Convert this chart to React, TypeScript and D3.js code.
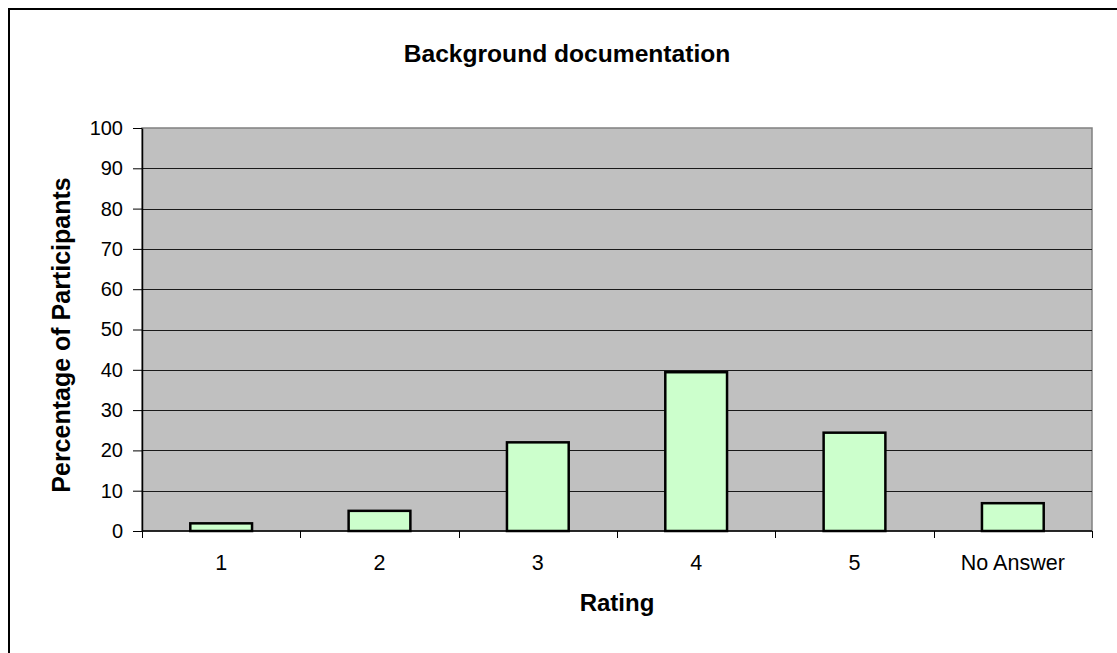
import { useRef, useEffect } from 'react'
import * as d3 from 'd3';

const ratings = ["1", "2", "3", "4", "5", "No Answer"];
const percentages = [1.9, 5.0, 22.0, 39.4, 24.4, 6.9];
const yTicks = [0, 10, 20, 30, 40, 50, 60, 70, 80, 90, 100];

const chartTitle = "Background documentation";
const xTitle = "Rating";
const yTitle = "Percentage of Participants";

function App() {

    const d3Container = useRef(null);

    const width = 1117;
    const height = 653;

    useEffect(() => {

        const marginTop = 128;
        const marginRight = 25;
        const marginBottom = 122;
        const marginLeft = 142;

        const svg = d3.select(d3Container.current);
        svg.selectAll("*").remove();

        const font = "'Liberation Sans', Arial, sans-serif";

        // outer chart border (runs off the right and bottom edges)
        svg.append("path")
           .attr("d", `M9,${height + 5} V9 H${width + 5}`)
           .attr("fill", "none")
           .attr("stroke", "black")
           .attr("stroke-width", 2);

        const x = d3.scaleBand()
                    .domain(ratings)
                    .range([marginLeft, width - marginRight]);

        const y = d3.scaleLinear()
                    .domain([0, 100])
                    .range([height - marginBottom, marginTop]);

        // plot area background
        svg.append("rect")
           .attr("x", marginLeft)
           .attr("y", marginTop)
           .attr("width", width - marginRight - marginLeft)
           .attr("height", height - marginBottom - marginTop)
           .attr("fill", "#c0c0c0")
           .attr("stroke", "#808080")
           .attr("stroke-width", 1.5);

        // gridlines
        svg.append("g")
           .selectAll()
           .data(yTicks.filter(d => d > 0 && d < 100))
           .join("line")
           .attr("x1", marginLeft)
           .attr("x2", width - marginRight)
           .attr("y1", d => Math.round(y(d)) + 0.5)
           .attr("y2", d => Math.round(y(d)) + 0.5)
           .attr("stroke", "#1a1a1a")
           .attr("stroke-width", 1);

        // bars
        const barWidth = x.bandwidth() * 0.39;
        svg.append("g")
           .selectAll()
           .data(percentages)
           .join("rect")
           .attr("x", (d, i) => x(ratings[i]) + (x.bandwidth() - barWidth) / 2)
           .attr("width", barWidth)
           .attr("y", d => y(d))
           .attr("height", d => y(0) - y(d))
           .attr("fill", "#ccffcc")
           .attr("stroke", "black")
           .attr("stroke-width", 2.5);

        // y axis
        svg.append("g")
           .attr("transform", `translate(${marginLeft},0)`)
           .call(d3.axisLeft(y).tickValues(yTicks).tickSize(9).tickPadding(10).tickSizeOuter(0))
           .call(g => g.select(".domain").attr("stroke", "black").attr("stroke-width", 1.5))
           .call(g => g.selectAll(".tick line").attr("stroke", "black"))
           .call(g => g.selectAll(".tick text")
                       .attr("font-family", font)
                       .attr("font-size", 20)
                       .attr("fill", "black"));

        // x axis
        const xEdges = ratings.map(r => x(r)).concat([width - marginRight]);
        const xAxis = svg.append("g")
           .attr("transform", `translate(0,${height - marginBottom})`);
        xAxis.append("line")
             .attr("x1", marginLeft)
             .attr("x2", width - marginRight)
             .attr("stroke", "black")
             .attr("stroke-width", 1.5);
        xAxis.selectAll(".sep")
             .data(xEdges)
             .join("line")
             .attr("class", "sep")
             .attr("x1", d => Math.round(d) + 0.5)
             .attr("x2", d => Math.round(d) + 0.5)
             .attr("y1", 0)
             .attr("y2", 7)
             .attr("stroke", "black");
        xAxis.selectAll(".lbl")
             .data(ratings)
             .join("text")
             .attr("class", "lbl")
             .attr("x", d => x(d) + x.bandwidth() / 2)
             .attr("y", 39)
             .attr("text-anchor", "middle")
             .attr("font-family", font)
             .attr("font-size", 21.5)
             .attr("fill", "black")
             .text(d => d);

        // titles
        svg.append("text")
           .attr("x", 567)
           .attr("y", 62)
           .attr("text-anchor", "middle")
           .attr("font-family", font)
           .attr("font-weight", "bold")
           .attr("font-size", 24.6)
           .text(chartTitle);

        svg.append("text")
           .attr("x", (marginLeft + width - marginRight) / 2)
           .attr("y", 611)
           .attr("text-anchor", "middle")
           .attr("font-family", font)
           .attr("font-weight", "bold")
           .attr("font-size", 24)
           .text(xTitle);

        svg.append("text")
           .attr("transform", `translate(70,335) rotate(-90)`)
           .attr("text-anchor", "middle")
           .attr("font-family", font)
           .attr("font-weight", "bold")
           .attr("font-size", 25)
           .text(yTitle);
    });

    return (
        <svg width={width}
             height={height}
             style={{ position: "absolute", left: 0, top: 0, background: "white" }}
             ref={d3Container} />
    )
}

export default App;
